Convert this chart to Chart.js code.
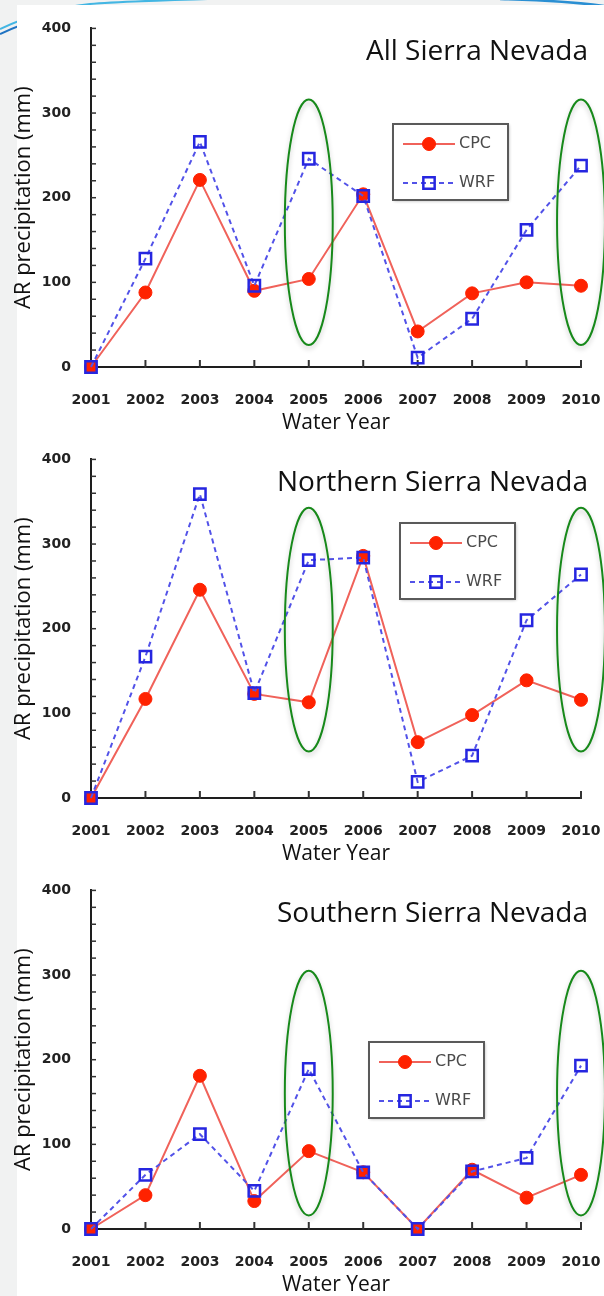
<!DOCTYPE html>
<html>
<head>
<meta charset="utf-8">
<script src="https://cdn.jsdelivr.net/npm/chart.js@4.4.0/dist/chart.umd.min.js"></script>
<style>
  body { margin: 0; width: 604px; height: 1296px; position: relative; overflow: hidden; background: #f1f2f2; }
  #swoosh { position: absolute; left: 0; top: 0; }
  #paper { position: absolute; left: 17px; top: 5px; width: 587px; height: 1291px; background: #fff; }
  canvas { position: absolute; left: 0; }
</style>
</head>
<body>
<svg id="swoosh" width="604" height="60">
  <path d="M0,29 C30,15 60,7 90,4 S180,0 240,-2" fill="none" stroke="#43b6e3" stroke-width="2"/>
  <path d="M0,34 C30,20 60,12 90,9" fill="none" stroke="#1f73c2" stroke-width="2"/>
  <path d="M500,-1 C540,0 575,2 604,6" fill="none" stroke="#2a8fd3" stroke-width="2.5"/>
</svg>
<div id="paper"></div>
<canvas id="c0" width="604" height="432" style="top:0px"></canvas>
<canvas id="c1" width="604" height="432" style="top:431px"></canvas>
<canvas id="c2" width="604" height="432" style="top:862px"></canvas>
<script>
// water years on the x axis
const years = ['2001', '2002', '2003', '2004', '2005', '2006', '2007', '2008', '2009', '2010']
const yTicks = [0, 100, 200, 300, 400]

// AR precipitation (mm)
const allCPC = [0, 88, 221, 90, 104, 204, 42, 87, 100, 96]
const allWRF = [0, 128, 266, 96, 246, 202, 11, 57, 162, 238]
const northCPC = [0, 117, 246, 123, 113, 286, 66, 98, 139, 116]
const northWRF = [0, 167, 359, 124, 281, 284, 19, 50, 210, 264]
const southCPC = [0, 40, 181, 33, 92, 67, 0, 70, 37, 64]
const southWRF = [0, 64, 112, 45, 189, 67, 0, 68, 84, 193]

const panelTitles = ['All Sierra Nevada', 'Northern Sierra Nevada', 'Southern Sierra Nevada']

// green rings around these years, spanning low..high (mm)
const circledYears = ['2005', '2010']
const ringLow = [26, 55, 16]
const ringHigh = [316, 343, 305]

const innerTicks = {
  id: 'innerTicks',
  beforeDatasetsDraw(chart) {
    const { ctx, scales: { x, y } } = chart
    ctx.save()
    ctx.strokeStyle = '#333'
    ctx.lineWidth = 2
    x.ticks.forEach((t, i) => {
      const px = x.getPixelForTick(i)
      ctx.beginPath()
      ctx.moveTo(px, x.top + 1)
      ctx.lineTo(px, x.top - 7)
      ctx.stroke()
    })
    ctx.lineWidth = 1.5
    y.ticks.forEach((t, i) => {
      const py = y.getPixelForTick(i)
      ctx.beginPath()
      ctx.moveTo(y.right, py)
      ctx.lineTo(y.right + 5, py)
      ctx.stroke()
    })
    ctx.restore()
  }
}

const panelTitle = {
  id: 'panelTitle',
  afterDraw(chart, args, opts) {
    const { ctx, chartArea } = chart
    ctx.save()
    ctx.font = '28px "Open Sans"'
    ctx.fillStyle = '#111'
    ctx.textAlign = 'right'
    ctx.textBaseline = 'middle'
    ctx.fillText(opts.text, chartArea.right + 7, chartArea.top + 24)
    ctx.restore()
  }
}

const rings = {
  id: 'rings',
  afterDatasetsDraw(chart, args, opts) {
    const { ctx, scales: { x, y } } = chart
    const step = x.getPixelForValue(1) - x.getPixelForValue(0)
    const top = y.getPixelForValue(opts.high)
    const bot = y.getPixelForValue(opts.low)
    ctx.save()
    ctx.strokeStyle = '#17891a'
    ctx.lineWidth = 2
    ctx.shadowColor = 'rgba(0,0,0,0.22)'
    ctx.shadowBlur = 5
    ctx.shadowOffsetY = 3
    circledYears.forEach((yr) => {
      const cx = x.getPixelForValue(years.indexOf(yr))
      ctx.beginPath()
      ctx.ellipse(cx, (top + bot) / 2, 0.44 * step, (bot - top) / 2, 0, 0, Math.PI * 2)
      ctx.stroke()
    })
    ctx.restore()
  }
}

const boxLegend = {
  id: 'boxLegend',
  afterDraw(chart, args, opts) {
    const ctx = chart.ctx
    const bx = opts.x, by = opts.y, w = 115, h = 76
    ctx.save()
    ctx.shadowColor = 'rgba(0,0,0,0.3)'
    ctx.shadowBlur = 3
    ctx.shadowOffsetX = 1
    ctx.shadowOffsetY = 1
    ctx.fillStyle = '#fff'
    ctx.fillRect(bx, by, w, h)
    ctx.shadowColor = 'transparent'
    ctx.strokeStyle = '#5a5a5a'
    ctx.lineWidth = 2
    ctx.strokeRect(bx, by, w, h)
    chart.data.datasets.forEach((ds, i) => {
      const ry = by + 20 + i * 39
      ctx.strokeStyle = ds.borderColor
      ctx.lineWidth = 2
      ctx.setLineDash(ds.borderDash || [])
      ctx.beginPath()
      ctx.moveTo(bx + 10, ry)
      ctx.lineTo(bx + 62, ry)
      ctx.stroke()
      ctx.setLineDash([])
      ctx.fillStyle = ds.pointBackgroundColor
      ctx.strokeStyle = ds.pointBorderColor
      ctx.lineWidth = ds.pointBorderWidth
      Chart.helpers.drawPoint(ctx, { pointStyle: ds.pointStyle, radius: ds.pointRadius, rotation: 0, borderWidth: ds.pointBorderWidth }, bx + 36, ry)
      ctx.fillStyle = '#4a4a4a'
      ctx.font = '16px "DejaVu Sans"'
      ctx.textAlign = 'left'
      ctx.textBaseline = 'middle'
      ctx.fillText(ds.label, bx + 66, ry)
    })
    ctx.restore()
  }
}

const tickFont = { family: 'DejaVu Sans', weight: 'bold', size: 14 }

function buildChart(id, idx, cpc, wrf, legendAt) {
  return new Chart(document.getElementById(id), {
    type: 'line',
    data: {
      labels: years,
      datasets: [
        {
          label: 'CPC',
          data: cpc,
          order: 1,
          borderColor: '#f0625a',
          borderWidth: 2,
          pointStyle: 'circle',
          pointRadius: 6.5,
          pointBackgroundColor: '#ff2200',
          pointBorderColor: '#ff2200',
          pointBorderWidth: 1,
          clip: false,
        },
        {
          label: 'WRF',
          data: wrf,
          order: 0,
          borderColor: '#5252e8',
          borderWidth: 2,
          borderDash: [5, 4],
          pointStyle: 'rect',
          pointRadius: 8,
          pointBackgroundColor: 'rgba(0,0,0,0)',
          pointBorderColor: '#2626e0',
          pointBorderWidth: 2.5,
          clip: false,
        },
      ],
    },
    options: {
      responsive: false,
      animation: false,
      devicePixelRatio: 1,
      layout: { padding: { top: 15, right: 23, left: 0, bottom: 0 } },
      plugins: {
        legend: { display: false },
        tooltip: { enabled: false },
        panelTitle: { text: panelTitles[idx] },
        rings: { low: ringLow[idx], high: ringHigh[idx] },
        boxLegend: { x: legendAt[0], y: legendAt[1] },
      },
      scales: {
        x: {
          grid: { display: false, drawTicks: false },
          border: { display: true, color: '#1e1e1e', width: 2 },
          ticks: { font: tickFont, color: '#222', padding: 25, maxRotation: 0, autoSkip: false },
          title: { display: true, text: 'Water Year', color: '#111', font: { family: 'Open Sans', size: 21, lineHeight: 1 }, padding: { top: 0, bottom: -2 } },
          afterFit: (s) => {
            s.height = 65
            // label padding shouldn't eat into the plot width
            s.paddingLeft = 20
            s.paddingRight = 20
          },
        },
        y: {
          min: 0,
          max: 400,
          grid: { display: false, drawTicks: false },
          border: { display: true, color: '#1e1e1e', width: 2 },
          ticks: {
            stepSize: 20,
            autoSkip: false,
            font: tickFont,
            color: '#222',
            padding: 20,
            callback: (v) => (yTicks.includes(v) ? v : ''),
          },
          title: { display: true, text: 'AR precipitation (mm)', color: '#111', font: { family: 'Open Sans', size: 22, lineHeight: 1.2 }, padding: { top: 11, bottom: 0 } },
          afterFit: (s) => { s.width = 91 },
        },
      },
    },
    plugins: [innerTicks, rings, panelTitle, boxLegend],
  })
}

buildChart('c0', 0, allCPC, allWRF, [393, 124])
buildChart('c1', 1, northCPC, northWRF, [400, 92])
buildChart('c2', 2, southCPC, southWRF, [369, 180])
</script>
</body>
</html>
